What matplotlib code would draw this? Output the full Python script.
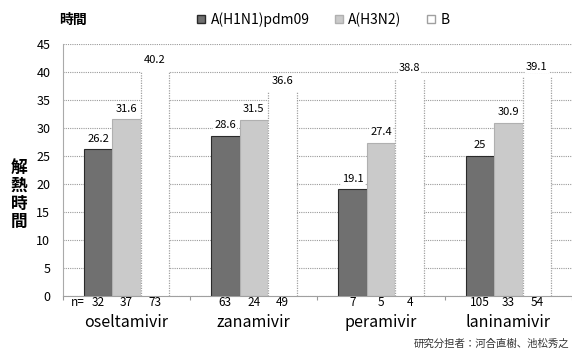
import numpy as np
import matplotlib.pyplot as plt
from matplotlib.patches import Patch
from matplotlib.transforms import blended_transform_factory

plt.rcParams['font.family'] = ['Noto Sans CJK JP', 'DejaVu Sans']

drugs = ["oseltamivir", "zanamivir", "peramivir", "laninamivir"]
series = ["A(H1N1)pdm09", "A(H3N2)", "B"]
h1n1 = [26.2, 28.6, 19.1, 25]
h3n2 = [31.6, 31.5, 27.4, 30.9]
flu_b = [40.2, 36.6, 38.8, 39.1]
n_h1n1 = [32, 63, 7, 105]
n_h3n2 = [37, 24, 5, 33]
n_b = [73, 49, 4, 54]

colors = ["#707070", "#cacaca", "#ffffff"]
edges = ["#2a2a2a", "#b0b0b0", "#a0a0a0"]

fig = plt.figure(figsize=(5.72, 3.55), dpi=100)
ax = fig.add_axes([0.110, 0.166, 0.890, 0.710])

x = np.arange(len(drugs))
w = 0.224
values = [h1n1, h3n2, flu_b]
counts = [n_h1n1, n_h3n2, n_b]

ax.set_ylim(0, 45)
ax.set_xlim(-0.5, 3.5)
ax.set_yticks(range(0, 46, 5))
ax.yaxis.grid(True, linestyle=(0, (1, 1)), color="#9a9a9a", linewidth=0.8)
ax.set_axisbelow(True)
ax.tick_params(axis="y", length=0, labelsize=9, pad=9)
ax.set_xticks(np.arange(-0.5, 4, 1))
ax.set_xticklabels([])
ax.tick_params(axis="x", length=3, color="#999999")
for s in ["top", "right"]:
    ax.spines[s].set_visible(False)
ax.spines["left"].set_color("#aaaaaa")
ax.spines["left"].set_linestyle((0, (1, 1)))
ax.spines["bottom"].set_color("#a0a0a0")
ax.spines["bottom"].set_linestyle((0, (1, 1)))

trans = blended_transform_factory(ax.transData, ax.transAxes)
for i, (vals, ns) in enumerate(zip(values, counts)):
    pos = x + (i - 1) * w
    if i < 2:
        ax.bar(pos, vals, width=w, color=colors[i], edgecolor=edges[i],
               linewidth=0.8, zorder=2)
    else:
        # white bars: only the two sides are outlined
        ax.bar(pos, vals, width=w, color=colors[i], edgecolor="none", zorder=2)
        ax.vlines(np.concatenate([pos - w / 2, pos + w / 2]), 0,
                  np.concatenate([vals, vals]), colors=edges[i],
                  linestyles=(0, (1, 1)), linewidth=0.9, zorder=3)
    for px, v, n in zip(pos, vals, ns):
        ax.annotate(f"{v:g}", (px, v), xytext=(0, 4), textcoords="offset points",
                    ha="center", va="bottom", fontsize=8, zorder=4,
                    bbox=dict(boxstyle="square,pad=0.1", fc="white", ec="none"))
        ax.text(px, -0.026, str(n), transform=trans, ha="center", va="center",
                fontsize=8.5)

ax.text(x[0] - w - 0.16, -0.026, "n=", transform=trans, ha="center",
        va="center", fontsize=8.5)
for xi, name in zip(x, drugs):
    ax.text(xi, -0.105, name, transform=trans, ha="center", va="center",
            fontsize=11.5)

fig.text(0.127, 0.945, "時間", ha="center", va="center", fontsize=10,
         fontweight="bold")
fig.text(0.033, 0.45, "解\n熱\n時\n間", ha="center", va="center",
         fontsize=12, fontweight="bold", linespacing=1.0)
fig.text(0.995, 0.033, "研究分担者：河合直樹、池松秀之", ha="right",
         va="center", fontsize=7.5, color="#333333")

handles = [Patch(facecolor=c, edgecolor=e) for c, e in zip(colors, edges)]
fig.legend(handles, series, loc="center", bbox_to_anchor=(0.565, 0.945),
           ncol=3, frameon=False, fontsize=10, handlelength=0.6,
           handleheight=0.6, handletextpad=0.4, columnspacing=1.8)

fig.savefig("out.png", dpi=100)
